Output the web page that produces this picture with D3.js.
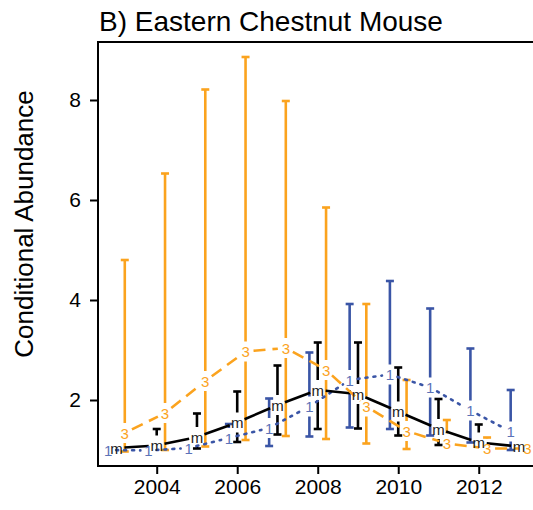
<!DOCTYPE html>
<html>
<head>
<meta charset="utf-8">
<script src="https://cdn.jsdelivr.net/npm/d3@7"></script>
<style>
  body { margin: 0; background: #fff; }
  svg { display: block; font-family: Arial, "Liberation Sans", sans-serif; }
</style>
</head>
<body>
<div id="chart"></div>
<script>
// years on the x axis
let years = [2003, 2004, 2005, 2006, 2007, 2008, 2009, 2010, 2011, 2012, 2013];

// series "1" (blue, dotted)
let blueMean  = [1.00, 0.99, 1.04, 1.24, 1.44, 1.87, 2.40, 2.51, 2.25, 1.79, 1.37];
let blueLow   = [0.95, 0.95, 0.97, 1.17, 1.08, 1.27, 1.45, 1.42, 1.29, 1.15, 1.00];
let blueHigh  = [1.10, 1.10, 1.15, 1.52, 2.03, 2.95, 3.92, 4.38, 3.83, 3.03, 2.20];

// series "m" (black, solid)
let blackMean = [1.04, 1.09, 1.26, 1.55, 1.90, 2.20, 2.12, 1.77, 1.42, 1.15, 1.07];
let blackLow  = [0.97, 1.00, 1.03, 1.16, 1.31, 1.42, 1.43, 1.29, 1.10, 1.00, 0.95];
let blackHigh = [1.20, 1.42, 1.73, 2.17, 2.69, 3.15, 3.15, 2.65, 2.02, 1.51, 1.25];

// series "3" (orange, dashed)
let orangeMean = [1.34, 1.74, 2.38, 2.97, 3.04, 2.60, 1.87, 1.38, 1.13, 1.03, 1.03];
let orangeLow  = [0.97, 1.00, 1.07, 1.20, 1.28, 1.22, 1.13, 1.02, 1.00, 0.95, 0.95];
let orangeHigh = [4.80, 6.53, 8.21, 8.86, 7.98, 5.85, 3.92, 2.40, 1.60, 1.25, 1.10];

let yTicks = [2, 4, 6, 8];
let xTicks = [2004, 2006, 2008, 2010, 2012];

let width = 533;
let height = 510;

// plot box
let box = { left: 98, top: 42, bottom: 466 };

let svg = d3.select("#chart")
    .append("svg")
    .attr("width", width)
    .attr("height", height);

// scales
let x = d3.scaleLinear()
    .domain([2003, 2013])
    .range([116.45, 519]);

let y = d3.scaleLinear()
    .domain([2, 8])
    .range([400, 100]);

let yearStep = 0.207; // horizontal offset between series

let series = [
    { label: "1", color: "#3A55A6", textColor: "#5B72B8", mean: blueMean, low: blueLow, high: blueHigh, off: -yearStep, dash: "2,6", cap: "round" },
    { label: "m", color: "#000000", textColor: "#222222", mean: blackMean, low: blackLow, high: blackHigh, off: 0, dash: null, cap: "butt" },
    { label: "3", color: "#FBA31E", textColor: "#FBA31E", mean: orangeMean, low: orangeLow, high: orangeHigh, off: yearStep, dash: "12,7", cap: "butt" }
];

let gapBar = 10;   // gap in error bars around the point
let gapLine = 8;   // gap in the connecting line around the point
let capHalf = 4;

// error bars
series.forEach(function (s) {
    let g = svg.append("g");
    years.forEach(function (yr, i) {
        let px = x(yr + s.off);
        let pm = y(s.mean[i]);
        let pl = y(s.low[i]);
        let ph = y(s.high[i]);
        let pieces = [];
        if (pm - gapBar > ph) pieces.push([ph, pm - gapBar]);
        if (pm + gapBar < pl) pieces.push([pm + gapBar, pl]);
        pieces.forEach(function (p) {
            g.append("line")
                .attr("x1", px).attr("x2", px)
                .attr("y1", p[0]).attr("y2", p[1])
                .attr("stroke", s.color)
                .attr("stroke-width", 2.6);
        });
        if (ph < pm - gapBar) {
            g.append("line")
                .attr("x1", px - capHalf).attr("x2", px + capHalf)
                .attr("y1", ph).attr("y2", ph)
                .attr("stroke", s.color).attr("stroke-width", 2.6);
        }
        if (pl > pm + gapBar) {
            g.append("line")
                .attr("x1", px - capHalf).attr("x2", px + capHalf)
                .attr("y1", pl).attr("y2", pl)
                .attr("stroke", s.color).attr("stroke-width", 2.6);
        }
    });
});

// connecting lines with gaps at the points
series.forEach(function (s) {
    let g = svg.append("g");
    for (let i = 0; i < years.length - 1; i++) {
        let x0 = x(years[i] + s.off), y0 = y(s.mean[i]);
        let x1 = x(years[i + 1] + s.off), y1 = y(s.mean[i + 1]);
        let dx = x1 - x0, dy = y1 - y0;
        let len = Math.sqrt(dx * dx + dy * dy);
        if (len <= 2 * gapLine) continue;
        let ux = dx / len, uy = dy / len;
        g.append("line")
            .attr("x1", x0 + ux * gapLine).attr("y1", y0 + uy * gapLine)
            .attr("x2", x1 - ux * gapLine).attr("y2", y1 - uy * gapLine)
            .attr("stroke", s.color)
            .attr("stroke-width", 2.6)
            .attr("stroke-linecap", s.cap)
            .attr("stroke-dasharray", s.dash);
    }
});

// point labels
series.forEach(function (s) {
    svg.append("g")
        .selectAll("text")
        .data(years)
        .enter()
        .append("text")
        .attr("x", function (d) { return x(d + s.off); })
        .attr("y", function (d, i) { return y(s.mean[i]); })
        .attr("text-anchor", "middle")
        .attr("dominant-baseline", "central")
        .attr("font-size", 15)
        .attr("fill", s.textColor)
        .text(s.label);
});

// box round the plot
svg.append("rect")
    .attr("x", box.left)
    .attr("y", box.top)
    .attr("width", 500)
    .attr("height", box.bottom - box.top)
    .attr("fill", "none")
    .attr("stroke", "#000")
    .attr("stroke-width", 2);

// axes
let xAxis = svg.append("g")
    .attr("transform", "translate(0," + box.bottom + ")")
    .call(d3.axisBottom(x).tickValues(xTicks).tickFormat(d3.format("d")).tickSize(8).tickPadding(5));

let yAxis = svg.append("g")
    .attr("transform", "translate(" + box.left + ",0)")
    .call(d3.axisLeft(y).tickValues(yTicks).tickFormat(d3.format("d")).tickSize(8).tickPadding(9));

[xAxis, yAxis].forEach(function (a) {
    a.select(".domain").remove();
    a.selectAll("line").attr("stroke", "#000").attr("stroke-width", 2);
    a.selectAll("text")
        .attr("font-size", 21)
        .attr("font-family", "Arial, 'Liberation Sans', sans-serif")
        .attr("fill", "#000");
});

// title
svg.append("text")
    .attr("x", 99)
    .attr("y", 31)
    .attr("font-size", 28)
    .attr("fill", "#000")
    .text("B) Eastern Chestnut Mouse");

// y axis label
svg.append("text")
    .attr("transform", "translate(33,224) rotate(-90)")
    .attr("text-anchor", "middle")
    .attr("font-size", 26)
    .attr("fill", "#000")
    .text("Conditional Abundance");
</script>
</body>
</html>
